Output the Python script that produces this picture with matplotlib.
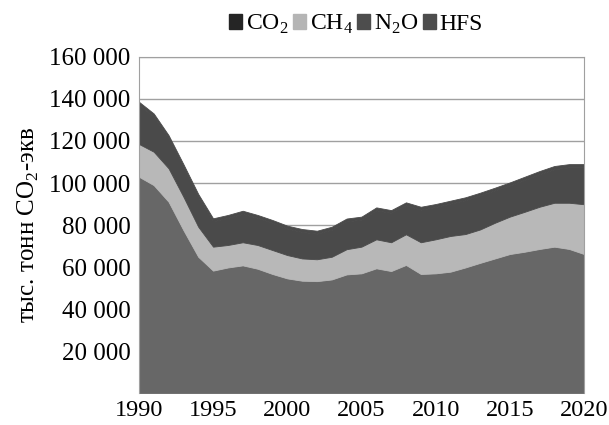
import numpy as np
import matplotlib.pyplot as plt
from matplotlib.patches import Patch
from matplotlib.ticker import FuncFormatter

plt.rcParams['font.family'] = ['Liberation Serif', 'DejaVu Serif']
plt.rcParams['mathtext.fontset'] = 'custom'
plt.rcParams['mathtext.rm'] = 'Liberation Serif'

years = list(range(1990, 2021))

# тыс. тонн CO2-экв
co2 = [103000, 99000, 91100, 77600, 64900, 58300, 59800, 60800, 59200, 56700,
       54600, 53500, 53300, 54100, 56500, 57000, 59400, 58100, 61000, 56700,
       57000, 57800, 59800, 62000, 64100, 66200, 67300, 68600, 69700, 68600,
       66200]
ch4 = [15600, 15900, 15900, 15900, 14300, 11400, 10700, 11000, 11300, 11400,
       11100, 10600, 10400, 10800, 12000, 12700, 13800, 13700, 14600, 15100,
       16200, 17000, 15900, 15900, 17000, 17800, 19000, 20100, 20900, 22000,
       23700]
n2o = [18600, 16700, 14400, 14000, 14200, 12100, 12900, 13500, 12900, 12900,
       12600, 12600, 12200, 12900, 13200, 12900, 13800, 14000, 13800, 15500,
       15400, 15400, 16100, 16200, 15400, 14800, 15200, 15500, 16000, 16900,
       17600]
hfs = [1500, 1500, 1400, 1500, 1400, 1400, 1400, 1500, 1400, 1400,
       1400, 1400, 1400, 1400, 1400, 1400, 1400, 1300, 1400, 1400,
       1400, 1400, 1400, 1300, 1300, 1500, 1500, 1500, 1500, 1500,
       1500]

fill_colors = ['#676767', '#b8b8b8', '#4a4a4a', '#4a4a4a']

fig = plt.figure(figsize=(6.09, 4.25), dpi=100)
ax = fig.add_axes([0.228, 0.075, 0.731, 0.791])

polys = ax.stackplot(years, co2, ch4, n2o, hfs, colors=fill_colors)
for p, c in zip(polys, fill_colors):
    p.set_edgecolor(c)
    p.set_linewidth(0.6)

ax.set_xlim(1990, 2020)
ax.set_ylim(0, 160000)
ax.set_xticks(range(1990, 2021, 5))
ax.set_yticks(range(20000, 160001, 20000))
ax.yaxis.set_major_formatter(FuncFormatter(lambda v, p: f'{int(v):,}'.replace(',', ' ')))
ax.tick_params(length=0, labelsize=18)
ax.tick_params(axis='x', pad=5, labelsize=17.5)
ax.tick_params(axis='y', pad=6)
ax.grid(axis='y', color='#a0a0a0', linewidth=1)
ax.set_axisbelow(True)
for s in ax.spines.values():
    s.set_color('#a0a0a0')
ax.spines['bottom'].set_visible(False)

ax.set_ylabel('тыс. тонн CO$_2$-экв', fontsize=18, labelpad=6)

handles = [Patch(color='#252525'), Patch(color='#b5b5b5'),
           Patch(color='#4d4d4d'), Patch(color='#4d4d4d')]
labels = ['CO$_2$', 'CH$_4$', 'N$_2$O', 'HFS']
fig.legend(handles, labels, loc='upper center', bbox_to_anchor=(0.585, 1.02),
           ncol=4, frameon=False, fontsize=17, handlelength=0.55,
           handleheight=0.55, handletextpad=0.15, columnspacing=0.2)

fig.savefig('out.png', dpi=100)
